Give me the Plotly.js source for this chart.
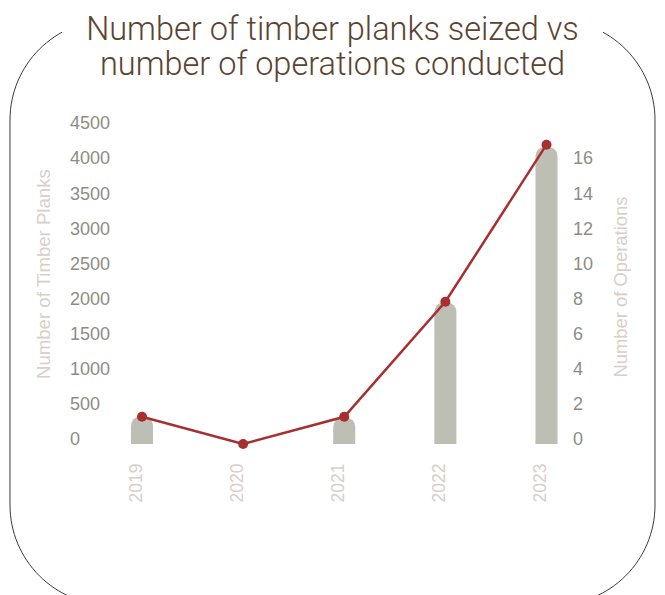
<!DOCTYPE html>
<html>
<head>
<meta charset="utf-8">
<script src="https://cdn.plot.ly/plotly-3.0.1.min.js"></script>
<style>
  html, body { margin: 0; padding: 0; background: #ffffff; }
  #chart { width: 665px; height: 595px; }
</style>
</head>
<body>
<div id="chart"></div>
<script>
// Yearly figures
const years = ['2019', '2020', '2021', '2022', '2023'];
const planksSeized = [390, 0, 375, 2015, 4230];
const operationsConducted = [1.55, 0, 1.55, 8.1, 17.05];

// Axis ticks
const plankTicks = [0, 500, 1000, 1500, 2000, 2500, 3000, 3500, 4000, 4500];
const operationTicks = [0, 2, 4, 6, 8, 10, 12, 14, 16];

// Title lines
const titleLine1 = 'Number of timber planks seized vs';
const titleLine2 = 'number of operations conducted';

const W = 665, H = 595;
const M = { l: 64, r: 95, t: 118, b: 151 };
const PW = W - M.l - M.r, PH = H - M.t - M.b;

// pixel position -> paper fraction
const fx = x => (x - M.l) / PW;
const fy = y => (H - M.b - y) / PH;
const pt = (x, y) => fx(x).toFixed(5) + ',' + fy(y).toFixed(5);

// rounded frame around the whole figure
function framePath(x0, y0, x1, y1, r) {
  const k = 0.5523 * r;
  return 'M' + pt(x0 + r, y0) +
    ' L' + pt(x1 - r, y0) +
    ' C' + pt(x1 - r + k, y0) + ' ' + pt(x1, y0 + r - k) + ' ' + pt(x1, y0 + r) +
    ' L' + pt(x1, y1 - r) +
    ' C' + pt(x1, y1 - r + k) + ' ' + pt(x1 - r + k, y1) + ' ' + pt(x1 - r, y1) +
    ' L' + pt(x0 + r, y1) +
    ' C' + pt(x0 + r - k, y1) + ' ' + pt(x0, y1 - r + k) + ' ' + pt(x0, y1 - r) +
    ' L' + pt(x0, y0 + r) +
    ' C' + pt(x0, y0 + r - k) + ' ' + pt(x0 + r - k, y0) + ' ' + pt(x0 + r, y0) + ' Z';
}

const plankMax = PH / (316 / 4500);   // same pixel spacing on both axes
const opsMax = plankMax / 250;

const labelFont = 'Liberation Sans, Arial, sans-serif';
const titleFont = { family: 'Roboto, sans-serif', weight: 300, size: 32.5, color: '#5b4331' };

const traces = [
  {
    type: 'bar',
    x: years,
    y: planksSeized,
    width: 0.218,
    marker: { color: '#bdbfb5', cornerradius: 9 },
    hoverinfo: 'x+y',
    name: 'Number of Timber Planks'
  },
  {
    type: 'scatter',
    mode: 'lines+markers',
    x: years,
    y: operationsConducted,
    yaxis: 'y2',
    line: { color: '#a82f2f', width: 2.5 },
    marker: { color: '#a82f2f', size: 10 },
    cliponaxis: false,
    name: 'Number of Operations'
  }
];

const layout = {
  width: W,
  height: H,
  margin: M,
  paper_bgcolor: '#ffffff',
  plot_bgcolor: 'rgba(0,0,0,0)',
  showlegend: false,
  title: {
    text: titleLine1,
    font: titleFont,
    x: 0.5,
    xref: 'container',
    xanchor: 'center',
    y: 1 - 29 / H,
    yref: 'container',
    yanchor: 'middle',
    pad: { t: 0, b: 0 }
  },
  xaxis: {
    type: 'category',
    range: [-0.7713, 4.2324],
    showgrid: false,
    zeroline: false,
    showline: false,
    ticks: '',
    tickangle: -90,
    ticklabelshift: -6,
    ticklabelstandoff: 15,
    tickfont: { family: labelFont, size: 17.5, color: '#d7cfc9' },
    fixedrange: true
  },
  yaxis: {
    range: [0, plankMax],
    tickvals: plankTicks,
    anchor: 'free',
    position: 0,
    side: 'right',
    ticklabelstandoff: 5,
    ticklabelshift: -5,
    showgrid: false,
    zeroline: false,
    showline: false,
    ticks: '',
    tickfont: { family: labelFont, size: 18, color: '#8e8d83' },
    fixedrange: true
  },
  yaxis2: {
    overlaying: 'y',
    side: 'right',
    anchor: 'x',
    range: [0, opsMax],
    tickvals: operationTicks,
    ticklabelshift: -5,
    ticklabelstandoff: 2,
    showgrid: false,
    zeroline: false,
    showline: false,
    ticks: '',
    tickfont: { family: labelFont, size: 18, color: '#8e8d83' },
    fixedrange: true
  },
  annotations: [
    {
      text: titleLine2,
      xref: 'paper', yref: 'paper',
      x: fx(W / 2), y: fy(64),
      xanchor: 'center', yanchor: 'middle',
      showarrow: false,
      font: titleFont
    },
    {
      text: 'Number of Timber Planks',
      textangle: -90,
      xref: 'paper', yref: 'paper',
      x: fx(43), y: fy(381),
      xanchor: 'center', yanchor: 'bottom',
      showarrow: false,
      font: { family: labelFont, size: 18.6, color: '#d7cfc9' }
    },
    {
      text: 'Number of Operations',
      textangle: -90,
      xref: 'paper', yref: 'paper',
      x: fx(620), y: fy(380),
      xanchor: 'center', yanchor: 'bottom',
      showarrow: false,
      font: { family: labelFont, size: 18.4, color: '#d7cfc9' }
    }
  ],
  shapes: [
    {
      type: 'path',
      xref: 'paper', yref: 'paper',
      path: framePath(10, 20, 655, 605, 100),
      line: { color: '#3a3a3a', width: 1 },
      fillcolor: 'rgba(0,0,0,0)',
      layer: 'below'
    },
    {
      type: 'rect',
      xref: 'paper', yref: 'paper',
      x0: fx(62), x1: fx(603), y0: fy(34), y1: fy(-5),
      line: { width: 0 },
      fillcolor: '#ffffff',
      layer: 'below'
    }
  ]
};

Plotly.newPlot('chart', traces, layout, { displayModeBar: false, staticPlot: true });
</script>
</body>
</html>
